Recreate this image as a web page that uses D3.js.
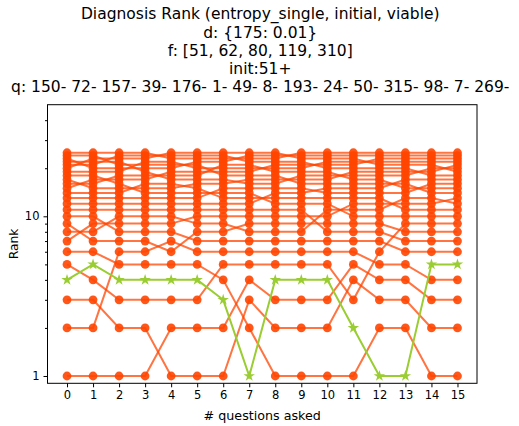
<!DOCTYPE html>
<html>
<head>
<meta charset="utf-8">
<script src="https://cdn.jsdelivr.net/npm/d3@7"></script>
<style>
  body { margin: 0; background: #fff; }
  svg text { font-family: "DejaVu Sans", sans-serif; fill: #000; }
</style>
</head>
<body>
<div id="chart"></div>
<script>
// title lines
const titleLines = [
  "Diagnosis Rank (entropy_single, initial, viable)",
  "d: {175: 0.01}",
  "f: [51, 62, 80, 119, 310]",
  "init:51+",
  "q: 150- 72- 157- 39- 176- 1- 49- 8- 193- 24- 50- 315- 98- 7- 269-"
];
const steps = d3.range(0, 16);
const yMajor = [1, 10];
const yMinor = [2, 3, 4, 5, 6, 7, 8, 9, 20, 30, 40];

// rank of the target diagnosis after each question
const target = [4, 5, 4, 4, 4, 4, 3, 1, 4, 4, 4, 2, 1, 1, 5, 5];

// ranks of the other diagnoses
const others = [
  [1, 1, 1, 1, 2, 2, 2, 4, 3, 3, 3, 5, 4, 4, 3, 3],
  [2, 2, 6, 6, 7, 6, 6, 6, 6, 6, 6, 6, 5, 5, 4, 4],
  [3, 3, 2, 2, 1, 1, 1, 3, 2, 2, 2, 4, 3, 3, 2, 2],
  [5, 4, 3, 3, 3, 3, 5, 5, 5, 5, 5, 3, 6, 9, 9, 9],
  [6, 6, 5, 5, 5, 5, 4, 2, 1, 1, 1, 1, 2, 2, 1, 1],
  [7, 9, 9, 9, 9, 10, 10, 10, 10, 10, 10, 12, 12, 12, 12, 13],
  [8, 8, 10, 10, 10, 9, 9, 8, 8, 8, 11, 11, 11, 13, 13, 12],
  [9, 7, 7, 7, 6, 8, 8, 9, 9, 9, 9, 9, 9, 8, 8, 8],
  [10, 10, 8, 8, 8, 7, 7, 7, 7, 7, 7, 7, 7, 6, 6, 6],
  [11, 11, 11, 11, 11, 11, 11, 11, 11, 11, 8, 8, 8, 7, 7, 7],
  [12, 12, 12, 12, 12, 12, 12, 12, 14, 14, 15, 15, 15, 17, 17, 17],
  [13, 13, 13, 13, 13, 13, 15, 15, 15, 15, 14, 14, 14, 14, 16, 16],
  [14, 14, 14, 16, 16, 15, 13, 13, 13, 13, 13, 13, 13, 11, 11, 11],
  [15, 17, 17, 17, 19, 19, 19, 19, 21, 21, 21, 21, 23, 23, 23, 23],
  [16, 16, 18, 18, 18, 18, 21, 21, 19, 19, 19, 17, 17, 15, 15, 15],
  [17, 15, 15, 15, 15, 16, 16, 17, 17, 17, 17, 19, 19, 19, 19, 21],
  [18, 18, 16, 14, 14, 14, 14, 14, 12, 12, 12, 10, 10, 10, 10, 10],
  [19, 19, 19, 22, 22, 20, 20, 20, 20, 20, 22, 22, 22, 22, 22, 22],
  [20, 23, 23, 23, 25, 25, 25, 25, 25, 23, 23, 23, 21, 21, 21, 19],
  [21, 21, 24, 24, 24, 24, 24, 22, 22, 22, 20, 20, 20, 20, 18, 18],
  [22, 22, 22, 19, 17, 17, 17, 16, 16, 18, 18, 18, 18, 18, 20, 20],
  [23, 20, 20, 20, 20, 22, 22, 24, 24, 24, 24, 24, 24, 24, 24, 24],
  [24, 24, 21, 21, 21, 21, 18, 18, 18, 16, 16, 16, 16, 16, 14, 14],
  [25, 25, 25, 25, 23, 23, 23, 23, 23, 25, 25, 25, 25, 25, 25, 25]
];

const width = 519, height = 426;
const margin = { top: 104.7, right: 42, bottom: 42.7, left: 47.5 };

const svg = d3.select("#chart").append("svg")
  .attr("width", width)
  .attr("height", height);

const x = d3.scaleLinear()
  .domain([-0.75, 15.75])
  .range([margin.left, width - margin.right]);

const y = d3.scaleLog()
  .domain([0.9, 50])
  .range([height - margin.bottom, margin.top]);

const line = d3.line()
  .x((d, i) => x(steps[i]))
  .y(d => y(d));

// other diagnoses
const orange = "#ff4500";
const gOthers = svg.append("g");
others.forEach(ranks => {
  const g = gOthers.append("g");
  g.append("path")
    .attr("d", line(ranks))
    .attr("fill", "none")
    .attr("stroke", orange)
    .attr("stroke-opacity", 0.75)
    .attr("stroke-width", 2);
  g.selectAll("circle")
    .data(ranks)
    .enter()
    .append("circle")
    .attr("cx", (d, i) => x(steps[i]))
    .attr("cy", d => y(d))
    .attr("r", 4.4)
    .attr("fill", orange)
    .attr("fill-opacity", 0.9);
});

// target diagnosis
const green = "#9acd32";
svg.append("path")
  .attr("d", line(target))
  .attr("fill", "none")
  .attr("stroke", green)
  .attr("stroke-width", 2);
svg.append("g").selectAll("path")
  .data(target)
  .enter()
  .append("path")
  .attr("d", d3.symbol().type(d3.symbolStar).size(40))
  .attr("fill", green)
  .attr("transform", (d, i) => "translate(" + x(steps[i]) + "," + y(d) + ")");

// axes
const axisX = d3.axisBottom(x).tickValues(steps).tickSize(4).tickPadding(4);
const ejeX = svg.append("g")
  .attr("transform", "translate(0," + (height - margin.bottom) + ")")
  .call(axisX);

const axisY = d3.axisLeft(y).tickValues(yMajor).tickFormat(d3.format("d")).tickSize(4).tickPadding(4);
const ejeY = svg.append("g")
  .attr("transform", "translate(" + margin.left + ",0)")
  .call(axisY);

const axisYMinor = d3.axisLeft(y).tickValues(yMinor).tickFormat("").tickSize(2.5);
svg.append("g")
  .attr("transform", "translate(" + margin.left + ",0)")
  .call(axisYMinor)
  .select(".domain").remove();

[ejeX, ejeY].forEach(a => {
  a.select(".domain").remove();
  a.selectAll("text").attr("font-size", 11.5).style("font-family", "DejaVu Sans, sans-serif").attr("fill", "#000");
});
svg.selectAll(".tick line").attr("stroke", "#000").attr("stroke-width", 1);

// frame
svg.append("rect")
  .attr("x", margin.left)
  .attr("y", margin.top)
  .attr("width", width - margin.right - margin.left)
  .attr("height", height - margin.bottom - margin.top)
  .attr("fill", "none")
  .attr("stroke", "#000")
  .attr("stroke-width", 1);

// labels
const cx = (margin.left + width - margin.right) / 2;
svg.append("text")
  .attr("x", cx)
  .attr("y", 420)
  .attr("text-anchor", "middle")
  .attr("font-size", 12.7)
  .text("# questions asked");

svg.append("text")
  .attr("transform", "translate(18," + ((margin.top + height - margin.bottom) / 2) + ") rotate(-90)")
  .attr("text-anchor", "middle")
  .attr("font-size", 12.3)
  .text("Rank");

const baselines = [19.3, 37.7, 56, 74.3, 91.8];
svg.append("g").selectAll("text")
  .data(titleLines)
  .enter()
  .append("text")
  .attr("x", cx - 2)
  .attr("y", (d, i) => baselines[i])
  .attr("text-anchor", "middle")
  .attr("font-size", 15.5)
  .text(d => d);
</script>
</body>
</html>
